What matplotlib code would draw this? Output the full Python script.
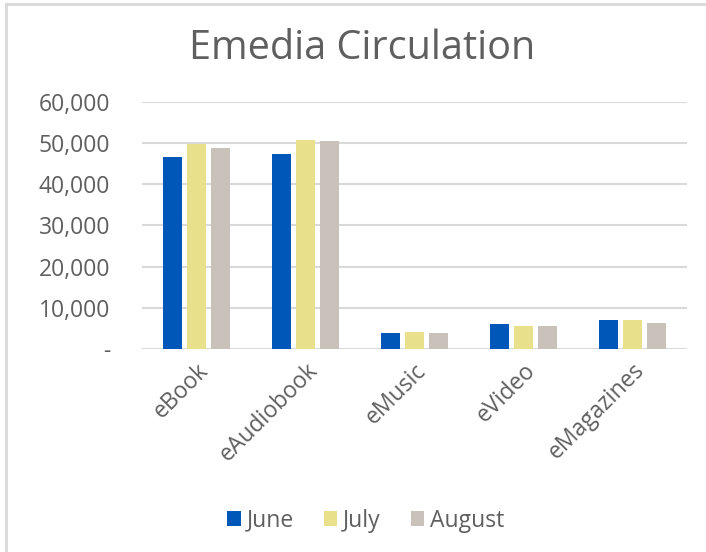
import numpy as np
import matplotlib
matplotlib.use("Agg")
import matplotlib.pyplot as plt
from matplotlib.lines import Line2D

categories = ["eBook", "eAudiobook", "eMusic", "eVideo", "eMagazines"]
months = ["June", "July", "August"]
june = [46750, 47400, 3750, 6070, 7120]
july = [49800, 50800, 3990, 5480, 7120]
august = [48930, 50480, 3850, 5570, 6390]
yticks = [0, 10000, 20000, 30000, 40000, 50000, 60000]
ytick_labels = ["-", "10,000", "20,000", "30,000", "40,000", "50,000", "60,000"]

colors = ["#0057B8", "#E8E08A", "#C9C2BA"]
text_col = "#5F5F5F"
grid_col = "#D9D9D9"

plt.rcParams["font.family"] = ["Open Sans", "DejaVu Sans"]

fig = plt.figure(figsize=(7.06, 5.52), dpi=100)
ax = fig.add_axes([0.201, 0.368, 0.772, 0.447])

x = np.arange(len(categories))
w = 0.174
step = 0.22
for i, (vals, c) in enumerate(zip([june, july, august], colors)):
    ax.bar(x + (i - 1) * step, vals, width=w, color=c, label=months[i], zorder=3)

ax.set_xlim(-0.5, len(categories) - 0.5)
ax.set_ylim(0, 60000)
ax.set_yticks(yticks)
ax.set_yticklabels(ytick_labels)
ax.yaxis.grid(True, color=grid_col, linewidth=1.5, zorder=0)
for s in ax.spines.values():
    s.set_visible(False)
ax.tick_params(axis="y", length=0, pad=23, labelsize=16.5, labelcolor=text_col)
ax.set_xticks(x)
ax.set_xticklabels(categories, rotation=45, ha="right", rotation_mode="anchor")
ax.tick_params(axis="x", length=0, pad=7, labelsize=16.5, labelcolor=text_col)

fig.text(0.513, 0.912, "Emedia Circulation", ha="center", va="center",
         fontsize=28.5, color=text_col)

leg = fig.legend(loc="center", bbox_to_anchor=(0.518, 0.057), ncol=3, frameon=False,
                 fontsize=16.5, labelcolor=text_col, handlelength=0.6, handleheight=0.6,
                 handletextpad=0.25, columnspacing=1.3)

# chart frame (left and top edges visible)
fig.add_artist(Line2D([0.008, 0.008], [0, 0.993], color=grid_col, linewidth=2,
                      transform=fig.transFigure))
fig.add_artist(Line2D([0.008, 1], [0.993, 0.993], color=grid_col, linewidth=2,
                      transform=fig.transFigure))

fig.savefig("out.png", dpi=100)
